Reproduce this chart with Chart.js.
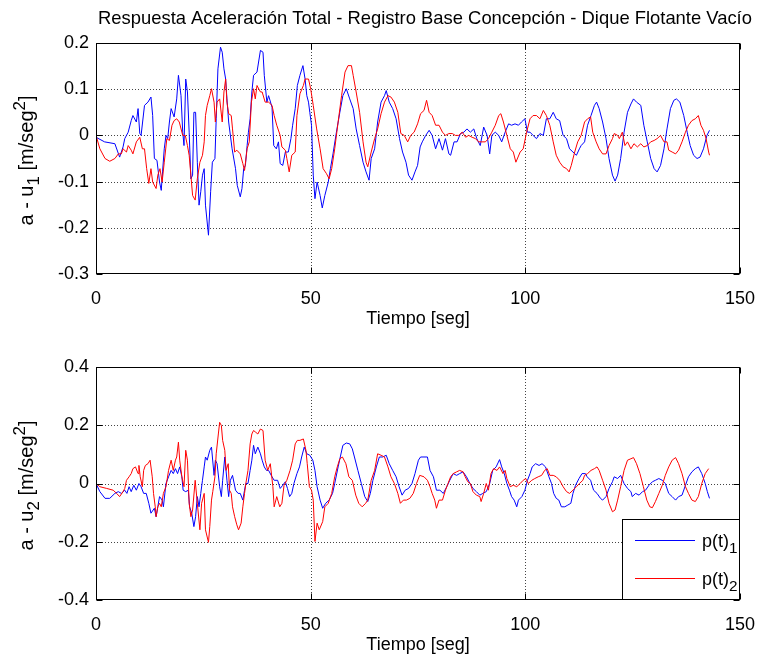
<!DOCTYPE html>
<html><head><meta charset="utf-8">
<script src="https://cdn.jsdelivr.net/npm/chart.js@4.4.0/dist/chart.umd.min.js"></script>
<style>
html,body{margin:0;padding:0;background:#fff;}
#wrap{position:relative;width:769px;height:656px;overflow:hidden;background:#fff;}
canvas{position:absolute;left:0;}
</style></head><body>
<div id="wrap">
<canvas id="c1" width="769" height="330" style="top:0px"></canvas>
<canvas id="c2" width="769" height="326" style="top:330px"></canvas>
</div>
<script>
const FONT = "'Liberation Sans', Arial, Helvetica, sans-serif";
const FS = 18;
const titleText = 'Respuesta Aceleración Total - Registro Base Concepción - Dique Flotante Vacío';
const xTitle = 'Tiempo [seg]';
const xTicks = [0, 50, 100, 150];
const yTicksTop = [-0.3, -0.2, -0.1, 0, 0.1, 0.2];
const yTicksBot = [-0.4, -0.2, 0, 0.2, 0.4];
const seriesNames = ['p(t)', 'p(t)'];
const seriesSubs = ['1', '2'];
const seriesColors = ['#0000ff', '#ff0000'];

// [time s, value m/s^2]
const u1_p1 = [[0,-0.004],[2,-0.014],[4.4,-0.018],[5.5,-0.047],[6.3,-0.025],[6.7,-0.007],[7.5,0.007],[8.2,0.032],[8.6,0.043],[9.4,0.029],[9.8,0.058],[10.2,0.004],[10.5,0],[11.3,0.065],[12.1,0.072],[12.8,0.083],[13.2,0.043],[13.6,-0.050],[14.2,-0.054],[14.8,-0.101],[15.2,-0.119],[15.5,-0.079],[15.9,-0.029],[16.3,0],[16.7,-0.007],[17.1,0.029],[17.5,0.058],[18.2,0.040],[18.8,0.079],[19.2,0.130],[19.8,0.086],[20.2,0.007],[20.5,-0.022],[20.9,0.122],[21.3,0.094],[21.7,0.007],[22.1,-0.094],[22.5,-0.086],[22.8,0.050],[23.2,0.050],[23.6,-0.058],[24.0,-0.151],[24.4,-0.122],[24.8,-0.086],[25.2,-0.072],[25.5,-0.151],[26.2,-0.216],[26.7,-0.122],[27.1,-0.058],[27.7,-0.050],[28.0,0.036],[28.4,0.144],[29.0,0.191],[29.4,0.180],[29.8,0.144],[30.2,0.122],[30.5,0.079],[30.9,0.029],[31.7,-0.029],[32.5,-0.072],[32.9,-0.108],[33.6,-0.133],[34.0,-0.115],[34.4,-0.072],[34.8,-0.065],[35.2,-0.022],[35.5,0.007],[35.9,0.036],[36.3,0.094],[36.7,0.130],[37.5,0.137],[38.3,0.184],[38.9,0.180],[39.2,0.130],[39.8,0.072],[40.2,0.086],[41.0,0.061],[41.4,-0.022],[42.0,-0.029],[42.5,-0.014],[42.9,-0.061],[43.5,-0.065],[44.1,-0.036],[44.8,-0.036],[45.4,-0.007],[45.8,0.022],[46.4,0.058],[46.9,0.108],[47.5,0.130],[48.2,0.151],[48.7,0.122],[49.1,0.086],[49.5,0.072],[49.8,0.050],[50.2,0.022],[50.6,-0.086],[51.0,-0.137],[51.5,-0.101],[52.2,-0.130],[52.7,-0.157],[53.3,-0.130],[54.1,-0.101],[54.6,-0.072],[55.2,-0.040],[56.0,0.007],[56.8,0.050],[57.5,0.086],[58.3,0.101],[59.1,0.079],[59.9,0.058],[60.6,0.014],[61.4,-0.022],[62.2,-0.058],[62.9,-0.079],[63.6,-0.097],[64.1,-0.050],[64.9,-0.029],[65.6,0.029],[66.4,0.072],[67.2,0.086],[67.6,0.097],[68.3,0.072],[69.1,0.058],[69.9,0.036],[70.7,-0.007],[71.4,-0.036],[72.2,-0.058],[72.8,-0.086],[73.6,-0.097],[74.3,-0.079],[74.9,-0.065],[75.5,-0.025],[76.0,-0.014],[76.8,0],[77.6,0.011],[78.3,0],[79.1,-0.029],[79.9,-0.007],[80.7,-0.032],[81.4,-0.007],[82.2,-0.040],[82.6,-0.043],[83.4,-0.014],[84.1,-0.014],[84.9,0.004],[85.7,0.007],[86.4,0.014],[87.2,0.007],[88.0,0.014],[88.7,-0.007],[89.5,-0.022],[90.3,0.018],[91.1,0],[91.7,-0.040],[92.2,0],[93.0,0.007],[93.8,0],[94.5,-0.014],[95.3,0.007],[96.1,0.025],[96.8,0.022],[97.6,0.025],[98.4,0.022],[99.1,0.029],[99.9,0.036],[100.5,0.007],[101.1,0.007],[101.8,0],[102.6,-0.007],[103.4,0.004],[104.2,0],[104.9,0.036],[105.7,0.036],[106.5,0.050],[107.2,0.036],[108.0,0.032],[108.8,0],[109.6,-0.007],[110.3,-0.029],[111.1,-0.036],[111.9,-0.043],[112.6,-0.029],[113.0,-0.022],[113.8,-0.014],[114.5,0.022],[115.3,0.043],[116.1,0.065],[116.6,0.072],[117.2,0.058],[118.0,0.029],[118.8,-0.007],[119.5,-0.050],[120.3,-0.086],[120.9,-0.099],[121.5,-0.086],[122.2,-0.050],[123.0,0.007],[123.8,0.050],[124.6,0.068],[125.2,0.079],[125.9,0.072],[126.9,0.065],[127.6,0.022],[128.4,-0.014],[129.2,-0.050],[130.0,-0.072],[130.7,-0.079],[131.5,-0.065],[132.3,-0.029],[133.0,0.014],[133.8,0.058],[134.6,0.076],[135.2,0.079],[136.0,0.072],[136.9,0.043],[137.7,0.007],[138.4,-0.022],[139.2,-0.043],[140.0,-0.050],[140.7,-0.047],[141.5,-0.029],[142.3,0],[142.9,0.011]];

const u1_p2 = [[0,0],[0.9,-0.029],[2.1,-0.050],[3.2,-0.056],[4.4,-0.050],[5.2,-0.040],[5.9,-0.040],[6.3,-0.029],[7.1,-0.036],[7.5,-0.022],[8.2,-0.032],[8.6,-0.040],[9.4,-0.014],[10.2,-0.004],[10.8,-0.029],[11.3,-0.029],[11.8,-0.072],[12.3,-0.104],[12.8,-0.072],[13.2,-0.101],[14.0,-0.115],[14.4,-0.086],[14.9,-0.072],[15.4,-0.101],[15.9,-0.058],[16.5,-0.007],[17.1,-0.011],[17.7,0.022],[18.2,0.032],[18.8,0.036],[19.4,0.029],[20.2,0],[20.8,0],[21.3,-0.022],[21.7,-0.043],[22.1,-0.086],[22.5,-0.130],[23.1,-0.140],[23.6,-0.094],[24.2,-0.058],[24.8,-0.043],[25.2,-0.014],[25.5,0.043],[25.9,0.065],[26.5,0.086],[26.9,0.101],[27.5,0.072],[27.8,0.029],[28.2,0.072],[28.8,0.079],[29.4,0.029],[29.8,0.094],[30.2,0.122],[30.5,0.072],[30.9,0.047],[31.5,0.043],[31.8,0.014],[32.3,-0.036],[32.8,-0.032],[33.6,-0.040],[34.2,-0.061],[34.6,-0.076],[35.2,-0.029],[35.7,-0.014],[36.2,0.072],[36.7,0.101],[37.1,0.079],[37.5,0.108],[38.3,0.094],[38.7,0.094],[39.4,0.072],[40.2,0.072],[41.0,0.065],[41.5,0.043],[42.1,0.022],[42.9,0],[43.3,-0.025],[44.1,-0.032],[44.45,-0.050],[45.0,-0.079],[45.6,-0.043],[46.4,-0.036],[46.8,0.043],[47.5,0.090],[48.3,0.108],[48.7,0.122],[49.5,0.122],[50.0,0.101],[50.6,0.065],[51.4,0.014],[52.2,-0.029],[52.9,-0.072],[53.7,-0.083],[54.3,-0.094],[54.9,-0.072],[55.6,-0.029],[56.4,0.029],[57.2,0.086],[58.0,0.137],[58.7,0.151],[59.5,0.151],[59.9,0.130],[60.6,0.094],[61.4,0.050],[62.2,-0.014],[62.9,-0.058],[63.3,-0.068],[64.1,-0.036],[64.9,-0.007],[65.6,0.014],[66.4,0.047],[67.2,0.072],[68.0,0.086],[68.7,0.083],[69.5,0.072],[70.3,0.050],[71.0,0.004],[71.8,0],[72.6,-0.014],[73.3,0],[74.1,0.007],[74.9,0.025],[75.6,0.047],[76.4,0.054],[77.0,0.076],[77.6,0.050],[78.3,0.043],[79.1,0.022],[79.9,0.022],[80.7,0.007],[81.4,0],[82.2,0.004],[83.0,0.004],[83.7,0],[84.5,0],[85.3,0.007],[86.1,-0.004],[86.8,0],[87.6,-0.004],[88.4,-0.007],[89.1,-0.014],[89.9,-0.014],[90.7,-0.014],[91.4,-0.007],[92.2,0.007],[93.0,0.022],[93.8,0.043],[94.3,0.047],[94.9,0.029],[95.7,0],[96.5,-0.029],[97.2,-0.036],[97.8,-0.058],[98.8,-0.036],[99.5,-0.029],[100.3,0.007],[101.1,0.036],[101.8,0.043],[102.6,0.043],[103.4,0.036],[104.2,0.054],[104.9,0.043],[105.7,0.022],[106.5,-0.014],[107.2,-0.043],[108.0,-0.058],[108.8,-0.068],[109.6,-0.072],[110.2,-0.079],[110.7,-0.065],[111.5,-0.036],[112.2,-0.014],[113.0,0],[113.8,0.029],[114.5,0.036],[115.2,0.040],[115.7,0.007],[116.5,-0.014],[117.2,-0.029],[118.0,-0.040],[118.8,-0.040],[119.5,-0.022],[120.3,-0.007],[120.7,0.004],[121.5,0],[121.9,-0.007],[122.6,0.007],[123.2,-0.022],[123.8,-0.014],[124.6,-0.029],[125.3,-0.018],[126.1,-0.025],[126.9,-0.018],[127.6,-0.025],[128.4,-0.022],[129.2,-0.014],[130.0,-0.011],[130.7,-0.007],[131.5,0],[132.3,-0.014],[133.0,-0.014],[133.4,-0.032],[134.2,-0.036],[135.0,-0.040],[135.7,-0.032],[136.5,-0.014],[137.3,0.007],[138.0,0.022],[138.8,0.032],[139.6,0.036],[140.3,0.043],[140.9,0.022],[141.5,0.011],[142.1,-0.007],[142.7,-0.036],[142.9,-0.043]];

const u2_p1 = [[0,0],[0.9,-0.028],[2.1,-0.051],[3.2,-0.051],[4.4,-0.034],[5.2,-0.028],[5.9,-0.034],[6.7,-0.023],[7.2,-0.034],[7.7,-0.011],[8.2,-0.028],[8.8,-0.006],[9.4,-0.023],[10.0,0],[10.5,-0.011],[11.1,-0.034],[11.7,-0.034],[12.3,-0.068],[12.8,-0.102],[13.6,-0.085],[14.0,-0.114],[14.4,-0.080],[14.8,-0.045],[15.4,-0.057],[15.7,-0.080],[16.3,0],[16.9,0.023],[17.5,0.045],[18.0,0.034],[18.5,0.051],[19.0,0.034],[19.5,0.057],[20.0,0.023],[20.3,-0.023],[20.9,-0.028],[21.5,-0.023],[21.8,-0.080],[22.3,-0.102],[22.8,-0.148],[23.2,-0.114],[23.6,-0.045],[24.0,-0.080],[24.4,-0.034],[24.8,0.011],[25.2,0.057],[25.5,0.091],[25.9,0.080],[26.5,0.114],[26.9,0.125],[27.5,0.028],[27.8,0.080],[28.2,0.068],[28.8,-0.011],[29.2,-0.045],[29.5,0.011],[30.0,0.091],[30.5,0.011],[30.9,-0.045],[31.3,0.011],[31.8,0.028],[32.5,-0.023],[33.1,-0.034],[33.6,-0.034],[34.2,-0.057],[34.6,-0.023],[34.9,0],[35.4,0],[35.9,0.045],[36.3,0.080],[36.7,0.131],[37.1,0.102],[37.7,0.125],[38.3,0.102],[38.7,0.080],[39.2,0.057],[39.7,0.045],[40.2,0.045],[41.0,0.023],[41.5,0.011],[42.3,0.011],[42.9,-0.017],[43.5,-0.006],[44.1,0.006],[44.6,-0.017],[45.1,-0.045],[45.6,-0.034],[46.1,0],[46.8,0.034],[47.4,0.057],[47.9,0.091],[48.5,0.125],[49.1,0.102],[49.8,0.097],[50.5,0.080],[51.0,0.045],[51.5,-0.011],[52.2,-0.057],[52.8,-0.085],[53.5,-0.068],[54.3,-0.057],[55.1,-0.034],[55.6,0],[56.4,0.057],[56.9,0.091],[57.5,0.131],[58.3,0.139],[59.1,0.136],[59.7,0.119],[60.2,0.091],[61.0,0.045],[61.8,0],[62.6,-0.045],[63.3,-0.062],[63.9,-0.034],[64.5,0.011],[65.3,0.057],[66.0,0.091],[66.8,0.091],[67.6,0.097],[68.3,0.068],[69.1,0.045],[69.9,0.023],[70.6,-0.011],[71.3,-0.040],[72.0,-0.023],[72.8,-0.017],[73.6,0],[74.3,0.034],[75.1,0.080],[75.6,0.091],[76.4,0.091],[77.2,0.091],[77.8,0.045],[78.6,0.023],[79.3,-0.023],[80.1,-0.023],[80.9,-0.034],[81.7,-0.011],[82.4,0.011],[83.2,0.034],[84.0,0.028],[84.7,0.034],[85.5,0.040],[86.3,0.023],[87.1,0],[87.8,-0.017],[88.6,-0.028],[89.4,-0.040],[90.1,-0.034],[90.9,-0.028],[91.7,0],[92.4,0.045],[93.2,0.057],[94.0,0.082],[94.5,0.057],[95.1,0.034],[95.7,0],[96.3,-0.023],[96.8,-0.045],[97.4,-0.057],[98.0,-0.080],[98.4,-0.057],[99.2,-0.045],[99.9,-0.023],[100.5,0.011],[101.1,0.034],[101.6,0.057],[102.4,0.068],[103.2,0.062],[103.9,0.068],[104.7,0.057],[105.5,0.023],[106.1,0],[106.6,-0.034],[107.2,-0.051],[107.8,-0.057],[108.4,-0.080],[109.2,-0.080],[109.9,-0.074],[110.6,-0.068],[111.1,-0.034],[111.7,-0.006],[112.5,0.017],[113.2,0.034],[114.0,0.034],[114.4,0.023],[115.2,0.011],[115.9,-0.023],[116.7,-0.034],[117.5,-0.051],[118.0,-0.057],[118.8,-0.045],[119.5,-0.017],[120.3,0.006],[120.7,0.023],[121.5,0.017],[122.2,0.028],[123.0,0],[123.8,-0.017],[124.6,-0.028],[124.9,-0.045],[125.7,-0.034],[126.5,-0.040],[127.3,-0.028],[128.0,-0.023],[128.8,-0.006],[129.6,0.006],[130.3,0.011],[131.1,0.017],[131.9,0.011],[132.6,0],[133.4,-0.034],[134.2,-0.045],[135.0,-0.057],[135.7,-0.045],[136.5,-0.040],[137.3,-0.006],[138.0,0.023],[138.8,0.040],[139.6,0.051],[140.3,0.057],[141.1,0.034],[141.9,0],[142.4,-0.028],[142.9,-0.051]];

const u2_p2 = [[0,0],[0.9,-0.011],[2.5,-0.017],[4.0,-0.023],[4.8,-0.034],[5.5,-0.045],[6.3,-0.028],[6.7,-0.017],[7.1,0.011],[7.7,0.023],[8.2,0.034],[8.6,0.051],[9.2,0.057],[9.8,0.034],[10.0,0.062],[10.3,0.023],[10.8,-0.011],[11.1,0.045],[11.5,0.062],[12.1,0.068],[12.6,0.080],[13.1,0.023],[13.4,-0.034],[13.8,-0.080],[14.0,-0.114],[14.4,-0.080],[14.8,-0.068],[15.2,-0.080],[15.7,-0.034],[16.3,-0.011],[16.9,0.045],[17.5,0.080],[18.0,0.045],[18.5,0.080],[18.8,0.091],[19.2,0.142],[19.5,0.080],[20.0,0.023],[20.5,-0.011],[20.9,0.114],[21.3,0.080],[21.7,-0.068],[22.1,-0.114],[22.5,-0.091],[23.1,0.011],[23.6,-0.068],[24.2,-0.159],[24.6,-0.068],[25.2,-0.034],[25.5,-0.159],[26.2,-0.202],[26.5,-0.148],[26.9,-0.057],[27.2,-0.028],[27.7,0.023],[28.0,0.102],[28.5,0.170],[28.8,0.210],[29.2,0.199],[29.5,0.148],[30.0,0.114],[30.3,0.045],[30.8,0.068],[31.1,-0.023],[31.5,-0.034],[31.8,-0.080],[32.3,-0.114],[32.8,-0.142],[33.2,-0.159],[33.8,-0.136],[34.2,-0.080],[34.6,-0.034],[34.9,0],[35.4,0.045],[35.9,0.136],[36.3,0.170],[36.7,0.182],[37.2,0.176],[37.7,0.170],[38.3,0.187],[38.9,0.182],[39.4,0.080],[40.0,0.045],[40.6,0.068],[41.2,-0.011],[41.5,-0.080],[42.1,-0.045],[42.8,-0.080],[43.3,-0.068],[43.8,-0.006],[44.45,0.011],[45.2,0.045],[45.8,0.080],[46.4,0.136],[46.9,0.148],[47.5,0.148],[48.3,0.153],[48.9,0.114],[49.2,0.068],[49.7,-0.011],[50.2,-0.023],[50.6,-0.057],[51.0,-0.199],[51.5,-0.136],[52.0,-0.159],[52.8,-0.131],[53.3,-0.080],[54.1,-0.068],[54.9,-0.034],[55.6,0.023],[56.2,0.057],[56.8,0.085],[57.4,0.091],[58.2,0.068],[58.9,0.023],[59.7,0.011],[60.5,-0.040],[61.2,-0.068],[62.0,-0.080],[62.8,-0.068],[63.3,-0.057],[64.1,0.011],[64.9,0.045],[65.6,0.102],[66.4,0.097],[67.2,0.091],[68.0,0.057],[68.7,0.023],[69.5,0],[70.3,-0.034],[70.9,-0.068],[71.6,-0.057],[72.3,-0.057],[73.1,-0.051],[73.9,-0.034],[74.65,0],[75.4,0.028],[76.4,0.023],[77.2,0.011],[77.8,-0.011],[78.3,-0.034],[78.9,-0.057],[79.3,-0.085],[79.9,-0.057],[80.7,-0.057],[81.4,-0.023],[82.0,0],[82.6,0.023],[83.2,0.034],[84.0,0.040],[84.7,0.045],[85.5,0.040],[86.0,0.023],[86.6,0.006],[87.2,0],[87.8,-0.028],[88.6,-0.040],[89.4,-0.045],[89.7,-0.062],[90.3,-0.034],[90.9,0],[91.4,-0.023],[92.0,0.034],[92.6,0.051],[93.4,0.045],[94.0,0.057],[94.8,0.034],[95.3,0.045],[95.7,0.017],[96.5,-0.011],[97.2,-0.006],[98.0,-0.011],[98.8,0],[99.5,0.011],[100.1,0.017],[100.7,0],[101.5,0.011],[102.2,0.017],[103.0,0.023],[103.8,0.028],[104.5,0.045],[105.1,0.051],[105.7,0.028],[106.5,0.028],[107.2,0.023],[108.0,0.011],[108.8,-0.011],[109.6,-0.028],[110.3,-0.034],[111.1,-0.023],[111.9,-0.011],[112.6,0],[113.4,0.011],[113.8,0.028],[114.5,0.034],[115.3,0.045],[116.1,0.051],[116.7,0.057],[117.2,0.045],[118.0,0.011],[118.8,-0.023],[119.5,-0.068],[120.3,-0.097],[120.9,-0.091],[121.5,-0.057],[122.2,-0.011],[123.0,0.045],[123.8,0.080],[124.6,0.085],[125.2,0.089],[125.9,0.068],[126.7,0.034],[127.5,-0.011],[128.3,-0.057],[129.0,-0.080],[129.6,-0.083],[130.3,-0.062],[131.1,-0.034],[131.9,-0.006],[132.6,0.028],[133.4,0.057],[134.2,0.080],[135.0,0.089],[135.7,0.068],[136.5,0.034],[137.3,-0.011],[138.0,-0.034],[138.8,-0.057],[139.6,-0.062],[140.3,-0.045],[141.1,0],[141.9,0.034],[142.7,0.051]];

function toXY(arr){ return arr.map(p => ({x: p[0], y: p[1]})); }

function drawRich(ctx, parts, x, y, size, subScale){
  const ss = subScale || 0.8;
  let w = 0;
  const widths = parts.map(p => {
    ctx.font = (p[1] ? size*ss : size) + 'px ' + FONT;
    const m = ctx.measureText(p[0]).width; w += m; return m;
  });
  return {w, draw(startX){
    let cx = startX;
    parts.forEach((p,i) => {
      ctx.font = (p[1] ? size*ss : size) + 'px ' + FONT;
      const dy = p[1] === -1 ? size*0.32 : (p[1] === 1 ? -size*0.42 : 0);
      ctx.fillText(p[0], cx, y + dy);
      cx += widths[i];
    });
  }};
}

const matlabAxes = {
  id: 'matlabAxes',
  beforeDatasetsDraw(chart, args, opts){
    const {ctx, chartArea: a, scales: {x, y}} = chart;
    ctx.save();
    ctx.strokeStyle = '#444'; ctx.lineWidth = 1; ctx.setLineDash([1, 2]);
    ctx.beginPath();
    x.ticks.forEach(t => {
      const px = Math.round(x.getPixelForValue(t.value)) + 0.5;
      if (px > a.left + 2 && px < a.right - 2){ ctx.moveTo(px, a.top); ctx.lineTo(px, a.bottom); }
    });
    y.ticks.forEach(t => {
      const py = Math.round(y.getPixelForValue(t.value)) + 0.5;
      if (py > a.top + 2 && py < a.bottom - 2){ ctx.moveTo(a.left, py); ctx.lineTo(a.right, py); }
    });
    ctx.stroke();
    ctx.restore();
  },
  afterDatasetsDraw(chart, args, opts){
    const {ctx, chartArea: a, scales: {x, y}} = chart;
    ctx.save();
    ctx.setLineDash([]);
    ctx.strokeStyle = '#000'; ctx.lineWidth = 1;
    const L = Math.round(a.left) + 0.5, R = Math.round(a.right) - 0.5, T = Math.round(a.top) + 0.5, B = Math.round(a.bottom) - 0.5;
    const tl = 6;
    ctx.beginPath();
    x.ticks.forEach(t => {
      const px = Math.round(x.getPixelForValue(t.value)) + 0.5;
      ctx.moveTo(px, B); ctx.lineTo(px, B - tl);
      ctx.moveTo(px, T); ctx.lineTo(px, T + tl);
    });
    y.ticks.forEach(t => {
      const py = Math.round(y.getPixelForValue(t.value)) + 0.5;
      ctx.moveTo(L, py); ctx.lineTo(L + tl, py);
      ctx.moveTo(R, py); ctx.lineTo(R - tl, py);
    });
    ctx.stroke();
    // legend
    if (opts.legend){
      const lx0 = 622.5, ly0 = 519.5 - 330, lx1 = R, ly1 = B;
      ctx.fillStyle = '#fff';
      ctx.fillRect(lx0, ly0, lx1 - lx0, ly1 - ly0);
      ctx.strokeStyle = '#000';
      ctx.strokeRect(lx0, ly0, lx1 - lx0, ly1 - ly0);
      const rows = [540 - 330, 578 - 330];
      chart.data.datasets.forEach((ds, i) => {
        ctx.strokeStyle = ds.borderColor; ctx.lineWidth = 1;
        ctx.beginPath(); ctx.moveTo(635, rows[i] + 0.5); ctx.lineTo(695, rows[i] + 0.5); ctx.stroke();
        ctx.fillStyle = '#000'; ctx.textAlign = 'left'; ctx.textBaseline = 'alphabetic';
        const r = drawRich(ctx, [[seriesNames[i], 0], [seriesSubs[i], -1]], 0, rows[i] + 7, FS, 0.85);
        r.draw(702);
      });
    }
    ctx.restore();
  },
  afterDraw(chart, args, opts){
    const {ctx, chartArea: a} = chart;
    ctx.save();
    ctx.setLineDash([]);
    ctx.strokeStyle = '#000'; ctx.lineWidth = 1;
    const L = Math.round(a.left) + 0.5, R = Math.round(a.right) - 0.5, T = Math.round(a.top) + 0.5, B = Math.round(a.bottom) - 0.5;
    ctx.strokeRect(L, T, R - L, B - T);
    ctx.fillStyle = '#000';
    ctx.textBaseline = 'alphabetic'; ctx.textAlign = 'left';
    // y title (rotated)
    ctx.save();
    ctx.translate(opts.yTitleX, (a.top + a.bottom) / 2 + 2);
    ctx.rotate(-Math.PI / 2);
    const r = drawRich(ctx, opts.yTitle, 0, 0, 20, 0.85);
    r.draw(-r.w / 2);
    ctx.restore();
    if (opts.title){
      ctx.font = '18.4px ' + FONT;
      ctx.textAlign = 'center'; ctx.textBaseline = 'alphabetic';
      ctx.fillText(opts.title, 425, opts.titleY);
    }
    ctx.restore();
  }
};

function fmt(v){ const r = Math.round(v * 10) / 10; return r === 0 ? '0' : String(r); }

function makeChart(id, s1, s2, yTicks, yMin, yMax, padTop, xAxisH, plug){
  return new Chart(document.getElementById(id), {
    type: 'line',
    data: {
      datasets: [
        {label: seriesNames[0] + seriesSubs[0], data: toXY(s1), borderColor: seriesColors[0], borderWidth: 1, pointRadius: 0, tension: 0, fill: false, order: 1},
        {label: seriesNames[1] + seriesSubs[1], data: toXY(s2), borderColor: seriesColors[1], borderWidth: 1, pointRadius: 0, tension: 0, fill: false, order: 0}
      ]
    },
    options: {
      responsive: false, animation: false, devicePixelRatio: 1,
      layout: {padding: {left: 0, right: 24, top: padTop, bottom: 0}},
      plugins: {legend: {display: false}, tooltip: {enabled: false}, matlabAxes: plug},
      scales: {
        x: {
          type: 'linear', min: 0, max: 150,
          afterBuildTicks: s => { s.ticks = xTicks.map(v => ({value: v})); },
          ticks: {color: '#000', font: {family: FONT, size: FS}, padding: 14, maxRotation: 0, autoSkip: false},
          grid: {display: false, drawTicks: false},
          border: {display: false},
          title: {display: true, text: xTitle, color: '#000', font: {family: FONT, size: FS}, padding: {top: 0, bottom: 0}},
          afterFit: s => { s.height = xAxisH; }
        },
        y: {
          type: 'linear', min: yMin, max: yMax,
          afterBuildTicks: s => { s.ticks = yTicks.map(v => ({value: v})); },
          ticks: {color: '#000', font: {family: FONT, size: FS}, padding: 7, callback: v => fmt(v), autoSkip: false},
          grid: {display: false, drawTicks: false},
          border: {display: false},
          afterFit: s => { s.width = 96; }
        }
      }
    },
    plugins: [matlabAxes]
  });
}

makeChart('c1', u1_p1, u1_p2, yTicksTop, -0.3, 0.2, 43, 56,
  {legend: false, title: titleText, titleY: 24, yTitleX: 33, yTitle: [['a - u', 0], ['1', -1], [' [m/seg', 0], ['2', 1], [']', 0]]});
makeChart('c2', u2_p1, u2_p2, yTicksBot, -0.4, 0.4, 37, 56,
  {legend: true, yTitleX: 33, yTitle: [['a - u', 0], ['2', -1], [' [m/seg', 0], ['2', 1], [']', 0]]});
</script>
</body></html>
